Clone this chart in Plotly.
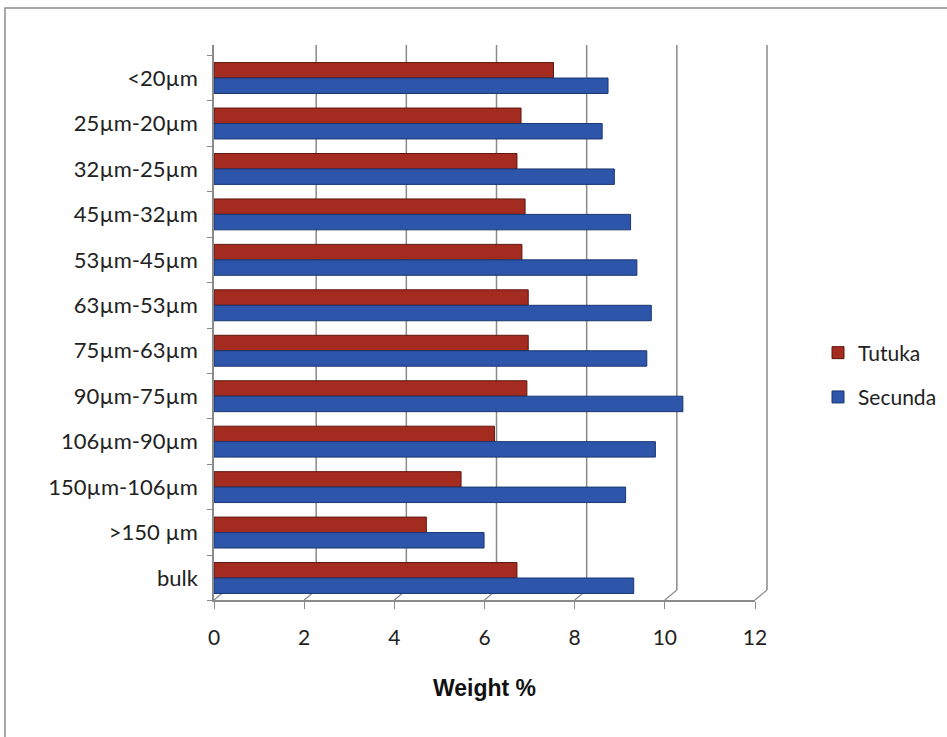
import plotly.graph_objects as go

categories = ["bulk", ">150 µm", "150µm-106µm", "106µm-90µm", "90µm-75µm", "75µm-63µm",
              "63µm-53µm", "53µm-45µm", "45µm-32µm", "32µm-25µm", "25µm-20µm", "<20µm"]
tutuka = [6.72, 4.71, 5.48, 6.22, 6.94, 6.97, 6.97, 6.83, 6.90, 6.72, 6.81, 7.53]
secunda = [9.31, 5.99, 9.13, 9.79, 10.40, 9.60, 9.70, 9.38, 9.24, 8.88, 8.61, 8.74]
x_ticks = [0, 2, 4, 6, 8, 10, 12]

pos = list(range(len(categories)))
W = 0.34
RED = "#A32B1F"
BLUE = "#2D55AA"
GRID = "#8a8a8a"

fig = go.Figure()
fig.add_trace(go.Bar(y=pos, x=tutuka, orientation="h", name="Tutuka", width=W, offset=0,
                     marker=dict(color=RED, line=dict(color="#5E170F", width=1)),
                     legendgroup="a"))
fig.add_trace(go.Bar(y=pos, x=secunda, orientation="h", name="Secunda", width=W, offset=-W,
                     marker=dict(color=BLUE, line=dict(color="#1B3670", width=1)),
                     legendgroup="b"))

L, R, T, B = 214, 192, 45, 137
pw, ph = 947 - L - R, 737 - T - B
xmax = x_ticks[-1]
shift = 12.0 / pw
floor = 10.0 / ph

fig.update_layout(
    width=947, height=737,
    margin=dict(l=L, r=R, t=T, b=B, autoexpand=False),
    paper_bgcolor="white", plot_bgcolor="white",
    barmode="overlay",
    font=dict(family="Lato, Open Sans, sans-serif", size=22, color="#222"),
    xaxis=dict(range=[0, xmax], tickvals=x_ticks, showgrid=False, zeroline=False,
               showline=True, linecolor=GRID, linewidth=1.5,
               ticks="outside", ticklen=7, tickcolor=GRID, ticklabelstandoff=11,
               tickfont=dict(size=21, color="#222"),
               title=dict(text="<b>Weight %</b>", standoff=32,
                          font=dict(family="Liberation Sans, Arial", size=23, color="#111"))),
    yaxis=dict(range=[-0.484, 11.727], tickvals=pos, ticktext=categories,
               showgrid=False, zeroline=False,
               showline=True, linecolor=GRID, linewidth=1.5,
               ticks="outside", ticklen=10, tickcolor="rgba(0,0,0,0)",
               tickfont=dict(size=22, color="#222"),
               minor=dict(tickvals=[p + 0.5 for p in pos] + [-0.484], ticks="outside",
                          ticklen=5, tickcolor=GRID, showgrid=False)),
    legend=dict(x=(818 - L) / pw, y=(600 - 375) / ph, xanchor="left", yanchor="middle",
                traceorder="grouped", tracegroupgap=14, itemwidth=30,
                font=dict(size=21, color="#222"), bgcolor="rgba(0,0,0,0)"),
    showlegend=True,
)

shapes = []
# back-wall gridlines and floor connectors, positioned from tick values
for v in x_ticks:
    fx = v / xmax
    if v > 0:
        shapes.append(dict(type="line", xref="paper", yref="paper",
                           x0=fx + shift, x1=fx + shift, y0=floor, y1=1,
                           line=dict(color=GRID, width=1.5), layer="below"))
    shapes.append(dict(type="line", xref="paper", yref="paper",
                       x0=fx, x1=fx + shift, y0=0, y1=floor,
                       line=dict(color=GRID, width=1.2), layer="below"))
# outer chart border
shapes.append(dict(type="rect", xref="paper", yref="paper",
                   x0=(5 - L) / pw, x1=(960 - L) / pw,
                   y0=(737 - B - 760) / ph, y1=(737 - B - 8) / ph,
                   line=dict(color=GRID, width=1.5), fillcolor="rgba(0,0,0,0)", layer="below"))
fig.update_layout(shapes=shapes)

fig.write_html("out.html")
